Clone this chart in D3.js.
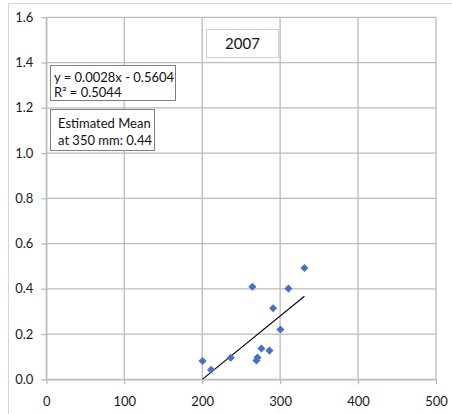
<!DOCTYPE html>
<html>
<head>
<meta charset="utf-8">
<script src="https://cdn.jsdelivr.net/npm/d3@7"></script>
<style>
  html, body { margin: 0; padding: 0; background: #fff; }
  svg { display: block; font-family: Lato, "Noto Sans", sans-serif; }
</style>
</head>
<body>
<svg id="chart" width="452" height="414"></svg>
<script>
// Rainfall (mm) vs. response, 2007 season
const rainfall = [200.5, 211.4, 236.7, 264.4, 270.9, 269.6, 276.0, 286.3, 291.0, 300.4, 310.7, 331.2];
const response = [0.081, 0.042, 0.095, 0.409, 0.096, 0.083, 0.136, 0.127, 0.314, 0.220, 0.401, 0.492];

const xTicks = [0, 100, 200, 300, 400, 500];
const yTicks = [0.0, 0.2, 0.4, 0.6, 0.8, 1.0, 1.2, 1.4, 1.6];

// Linear trend fitted to the points
const trendSlope = 0.0028;
const trendIntercept = -0.5604;
const rSquared = 0.5044;

const titleText = "2007";
const equationLines = ["y = 0.0028x - 0.5604", "R\u00B2 = 0.5044"];
const estimateLines = ["Estimated Mean", "at 350 mm: 0.44"];

const svg = d3.select("#chart");
const plot = { left: 46.3, right: 436, top: 17.3, bottom: 379.3 };

const x = d3.scaleLinear().domain([0, 500]).range([plot.left, plot.right]);
const y = d3.scaleLinear().domain([0, 1.6]).range([plot.bottom, plot.top]);

const gridColor = "#bbbbbb";

// outer chart frame
svg.append("rect")
  .attr("x", 8.5).attr("y", 3.5)
  .attr("width", 470).attr("height", 430)
  .attr("fill", "none").attr("stroke", "#d6d6d6").attr("stroke-width", 1);

// vertical gridlines
svg.append("g").selectAll("line").data(xTicks).join("line")
  .attr("x1", d => x(d)).attr("x2", d => x(d))
  .attr("y1", plot.top).attr("y2", plot.bottom)
  .attr("stroke", gridColor).attr("stroke-width", 1.3);

// horizontal gridlines
svg.append("g").selectAll("line").data(yTicks).join("line")
  .attr("x1", plot.left).attr("x2", plot.right)
  .attr("y1", d => y(d)).attr("y2", d => y(d))
  .attr("stroke", gridColor).attr("stroke-width", 1.3);

// axes
const xAxis = svg.append("g")
  .attr("transform", `translate(0,${plot.bottom})`)
  .call(d3.axisBottom(x).tickValues(xTicks).tickFormat(d3.format("d")).tickSize(5).tickSizeOuter(0).tickPadding(12));
const yAxis = svg.append("g")
  .attr("transform", `translate(${plot.left},0)`)
  .call(d3.axisLeft(y).tickValues(yTicks).tickFormat(d3.format(".1f")).tickSize(5).tickSizeOuter(0).tickPadding(8));

[xAxis, yAxis].forEach(g => {
  g.select(".domain").attr("stroke", gridColor).attr("stroke-width", 1.3);
  g.selectAll(".tick line").attr("stroke", gridColor).attr("stroke-width", 1.3);
  g.selectAll(".tick text")
    .attr("fill", "#1a1a1a")
    .style("font-family", "Lato, 'Noto Sans', sans-serif")
    .style("font-size", "13px");
});

// trend line over the range of the data
const xExtent = d3.extent(rainfall);
svg.append("line")
  .attr("x1", x(xExtent[0])).attr("y1", y(trendSlope * xExtent[0] + trendIntercept))
  .attr("x2", x(xExtent[1])).attr("y2", y(trendSlope * xExtent[1] + trendIntercept))
  .attr("stroke", "#000").attr("stroke-width", 1.1);

// data points as diamonds
const diamond = d3.symbol().type(d3.symbolDiamond2).size(42);
svg.append("g").selectAll("path").data(rainfall.map((r, i) => [r, response[i]])).join("path")
  .attr("d", diamond)
  .attr("transform", d => `translate(${x(d[0])},${y(d[1])})`)
  .attr("fill", "#4472C4");

// year title box
const title = svg.append("g");
title.append("rect")
  .attr("x", 206.5).attr("y", 29.5).attr("width", 72).attr("height", 28)
  .attr("fill", "#fff").attr("stroke", "#d0d0d0").attr("stroke-width", 1);
title.append("text")
  .attr("x", 242.5).attr("y", 44).attr("dy", "0.35em")
  .attr("text-anchor", "middle")
  .attr("fill", "#111").style("font-size", "15px")
  .text(titleText);

// equation box
const eq = svg.append("g");
eq.append("rect")
  .attr("x", 50.5).attr("y", 65.5).attr("width", 125).attr("height", 35)
  .attr("fill", "#fff").attr("stroke", "#7f7f7f").attr("stroke-width", 1);
eq.selectAll("text").data(equationLines).join("text")
  .attr("x", 54).attr("y", (d, i) => 77.5 + i * 15).attr("dy", "0.35em")
  .attr("fill", "#111").style("font-size", "13px")
  .text(d => d);

// estimate box
const est = svg.append("g");
est.append("rect")
  .attr("x", 50.5).attr("y", 109.5).attr("width", 104).attr("height", 41)
  .attr("fill", "#fff").attr("stroke", "#7f7f7f").attr("stroke-width", 1);
est.selectAll("text").data(estimateLines).join("text")
  .attr("x", 58).attr("y", (d, i) => 123 + i * 17).attr("dy", "0.35em")
  .attr("fill", "#111").style("font-size", "13px")
  .text(d => d);
</script>
</body>
</html>
